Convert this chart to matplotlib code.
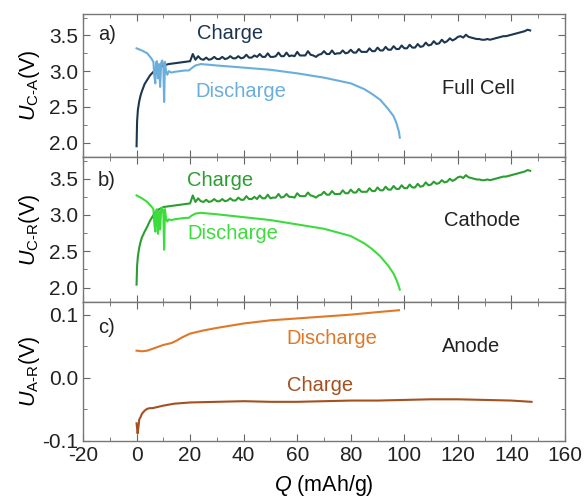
import matplotlib
matplotlib.use("Agg")
import matplotlib.pyplot as plt
from matplotlib.ticker import MultipleLocator

plt.rcParams["font.family"] = ["Liberation Sans", "DejaVu Sans"]
plt.rcParams["mathtext.fontset"] = "custom"
plt.rcParams["mathtext.rm"] = "Liberation Sans"
plt.rcParams["mathtext.it"] = "Liberation Sans:italic"

# ---- data ----
q_chg = [0, 0.2, 0.5, 1, 1.5, 2, 3, 4, 5, 6, 7, 8, 9, 10, 12, 14, 16, 18, 20] + list(range(21, 148))

fc_chg = [1.95, 2.30, 2.46, 2.58, 2.66, 2.72, 2.82, 2.88, 2.94, 2.98, 3.02, 3.04, 3.06, 3.08, 3.10, 3.11, 3.12, 3.13, 3.14,
          3.24, 3.16, 3.21, 3.17, 3.16, 3.19, 3.16, 3.17, 3.20, 3.17,
          3.17, 3.20, 3.17, 3.18, 3.21, 3.18, 3.18, 3.21, 3.18, 3.19,
          3.23, 3.19, 3.19, 3.22, 3.20, 3.24, 3.20, 3.20, 3.25, 3.20,
          3.20, 3.21, 3.26, 3.21, 3.21, 3.26, 3.21, 3.22, 3.21, 3.27,
          3.22, 3.22, 3.22, 3.28, 3.23, 3.22, 3.20, 3.23, 3.24, 3.28,
          3.24, 3.24, 3.29, 3.24, 3.25, 3.25, 3.29, 3.25, 3.26, 3.30,
          3.26, 3.26, 3.31, 3.27, 3.27, 3.27, 3.32, 3.28, 3.28, 3.33,
          3.29, 3.29, 3.34, 3.30, 3.30, 3.35, 3.31, 3.31, 3.36, 3.32,
          3.32, 3.37, 3.33, 3.33, 3.38, 3.34, 3.35, 3.40, 3.36, 3.37,
          3.42, 3.38, 3.39, 3.44, 3.40, 3.42, 3.46, 3.43, 3.45, 3.48,
          3.49, 3.47, 3.51, 3.48, 3.47, 3.46, 3.45, 3.45, 3.44, 3.44,
          3.45, 3.44, 3.45, 3.46, 3.47, 3.48, 3.49, 3.49, 3.50, 3.51,
          3.52, 3.53, 3.54, 3.55, 3.56, 3.58, 3.57]

ca_chg = [2.04, 2.30, 2.43, 2.55, 2.63, 2.69, 2.77, 2.84, 2.92, 2.98, 3.04, 3.07, 3.09, 3.11, 3.12, 3.13, 3.14, 3.15, 3.16,
          3.27, 3.18, 3.23, 3.19, 3.18, 3.21, 3.18, 3.19, 3.22, 3.19,
          3.19, 3.22, 3.19, 3.20, 3.23, 3.20, 3.20, 3.24, 3.21, 3.21,
          3.26, 3.22, 3.22, 3.25, 3.22, 3.27, 3.23, 3.23, 3.28, 3.23,
          3.24, 3.24, 3.29, 3.24, 3.25, 3.29, 3.25, 3.25, 3.24, 3.30,
          3.26, 3.26, 3.26, 3.31, 3.27, 3.26, 3.24, 3.27, 3.28, 3.32,
          3.28, 3.28, 3.33, 3.29, 3.29, 3.29, 3.34, 3.30, 3.30, 3.35,
          3.31, 3.31, 3.36, 3.32, 3.32, 3.32, 3.37, 3.33, 3.33, 3.38,
          3.34, 3.34, 3.39, 3.35, 3.35, 3.40, 3.36, 3.36, 3.41, 3.37,
          3.37, 3.42, 3.38, 3.38, 3.43, 3.39, 3.40, 3.45, 3.41, 3.42,
          3.46, 3.43, 3.44, 3.48, 3.45, 3.46, 3.50, 3.47, 3.49, 3.52,
          3.53, 3.51, 3.55, 3.52, 3.51, 3.50, 3.49, 3.49, 3.48, 3.48,
          3.49, 3.48, 3.49, 3.50, 3.51, 3.52, 3.53, 3.53, 3.54, 3.55,
          3.56, 3.57, 3.58, 3.59, 3.60, 3.62, 3.61]

q_dis = [0, 2, 4, 5.5, 6.3, 6.6, 7.0, 7.3, 7.6, 8.0, 8.4, 8.8, 9.2, 9.6, 10.0, 10.3, 10.6, 11.0, 11.5, 12,
         13, 14, 16, 18, 19.5, 20.5, 22, 24, 30, 40, 50, 60, 70, 75, 80, 85, 88, 91, 94, 96, 97, 98, 98.3]
fc_dis = [3.32, 3.29, 3.25, 3.18, 3.13, 2.95, 2.83, 3.12, 3.14, 2.90, 3.10, 2.78, 3.12, 3.15, 3.08, 2.57, 3.13, 3.00, 2.95, 3.00,
          2.98, 2.99, 3.00, 3.01, 3.01, 3.04, 3.08, 3.10, 3.08, 3.05, 3.02, 2.97, 2.91, 2.87, 2.83, 2.75, 2.68, 2.60, 2.47, 2.37,
          2.28, 2.15, 2.07]
ca_dis = [3.27, 3.23, 3.18, 3.12, 3.08, 2.90, 2.77, 3.06, 3.08, 2.74, 3.05, 2.80, 3.08, 3.10, 3.02, 2.52, 3.08, 2.95, 2.91, 2.94,
          2.93, 2.94, 2.95, 2.96, 2.96, 2.99, 3.02, 3.03, 3.01, 2.97, 2.93, 2.87, 2.81, 2.76, 2.71, 2.61, 2.53, 2.43, 2.30, 2.19,
          2.11, 2.01, 1.97]

q_an_dis = [0, 2, 4, 6, 8, 10, 13, 15, 17, 20, 25, 30, 40, 50, 60, 70, 80, 90, 98]
an_dis = [0.043, 0.042, 0.043, 0.046, 0.049, 0.052, 0.055, 0.059, 0.064, 0.070, 0.075, 0.079, 0.086, 0.091, 0.094,
          0.097, 0.100, 0.104, 0.107]
q_an_chg = [0, 0.2, 0.4, 0.7, 1.0, 1.5, 2, 3, 4, 5, 6, 8, 10, 14, 20, 30, 40, 50, 60, 70, 80, 90, 100, 110, 120,
            130, 140, 147.5]
an_chg = [-0.072, -0.080, -0.088, -0.078, -0.066, -0.062, -0.057, -0.052, -0.049, -0.048, -0.048, -0.046, -0.044,
          -0.041, -0.039, -0.038, -0.037, -0.038, -0.038, -0.037, -0.036, -0.036, -0.035, -0.034, -0.034, -0.035,
          -0.036, -0.038]

x_ticks = [-20, 0, 20, 40, 60, 80, 100, 120, 140, 160]

fig = plt.figure(figsize=(5.85, 4.99), dpi=100)
W, H = 585, 499
L, R = 83, 565
rows = [(14, 157), (157, 302), (302, 441)]
axes = []
for top, bot in rows:
    ax = fig.add_axes([L / W, 1 - bot / H, (R - L) / W, (bot - top) / H])
    axes.append(ax)
ax1, ax2, ax3 = axes

lw = 1.5
ax1.plot(q_chg, fc_chg, color="#1d3650", lw=lw)
ax1.plot(q_dis, fc_dis, color="#6aaedc", lw=lw)
ax2.plot(q_chg, ca_chg, color="#2a9e30", lw=lw)
ax2.plot(q_dis, ca_dis, color="#3ddc3d", lw=lw)
ax3.plot(q_an_dis, an_dis, color="#e07828", lw=lw)
ax3.plot(q_an_chg, an_chg, color="#a4501f", lw=lw)

fs = 14.5
for ax in axes:
    ax.set_xlim(-20, 160)
    ax.set_xticks(x_ticks)
    ax.xaxis.set_minor_locator(MultipleLocator(10))
    ax.tick_params(which="both", direction="in", top=True, right=True, labelsize=15, colors="#666666",
                   labelcolor="#222222")
    ax.tick_params(which="major", length=5)
    ax.tick_params(which="minor", length=3)
    for s in ax.spines.values():
        s.set_color("#777777")
        s.set_linewidth(1.0)

for ax in (ax1, ax2):
    ax.set_ylim(1.8, 3.8)
    ax.set_yticks([2.0, 2.5, 3.0, 3.5])
    ax.yaxis.set_minor_locator(MultipleLocator(0.25))
    ax.tick_params(labelbottom=False)

ax3.set_ylim(-0.1, 0.12)
ax3.set_yticks([-0.1, 0.0, 0.1])
ax3.yaxis.set_minor_locator(MultipleLocator(0.05))
ax3.set_yticklabels(["-0.1", "0.0", "0.1"])
ax3.set_xticklabels([str(v) for v in x_ticks])

ax1.set_ylabel("$U_{\\mathrm{C\u2010A}}$(V)", fontsize=15.5)
ax2.set_ylabel("$U_{\\mathrm{C\u2010R}}$(V)", fontsize=15.5)
ax3.set_ylabel("$U_{\\mathrm{A\u2010R}}$(V)", fontsize=15.5)
for ax in axes:
    ax.yaxis.set_label_coords(-0.085, 0.5)
ax3.set_xlabel("$Q$ (mAh/g)", fontsize=15.5, labelpad=6)

ax1.text(-14.4, 3.52, "a)", fontsize=fs, va="center", color="#222222")
ax1.text(22.5, 3.53, "Charge", fontsize=fs, va="center", color="#1d3650")
ax1.text(22, 2.71, "Discharge", fontsize=fs, va="center", color="#6aaedc")
ax1.text(114, 2.76, "Full Cell", fontsize=fs, va="center", color="#222222")

ax2.text(-14.4, 3.48, "b)", fontsize=fs, va="center", color="#222222")
ax2.text(19, 3.48, "Charge", fontsize=fs, va="center", color="#2a9e30")
ax2.text(19, 2.74, "Discharge", fontsize=fs, va="center", color="#3ddc3d")
ax2.text(115, 2.92, "Cathode", fontsize=fs, va="center", color="#222222")

ax3.text(-14.4, 0.079, "c)", fontsize=fs, va="center", color="#222222")
ax3.text(56, 0.063, "Discharge", fontsize=fs, va="center", color="#e07828")
ax3.text(56, -0.012, "Charge", fontsize=fs, va="center", color="#a4501f")
ax3.text(114, 0.049, "Anode", fontsize=fs, va="center", color="#222222")

fig.savefig("out.png", dpi=100)
